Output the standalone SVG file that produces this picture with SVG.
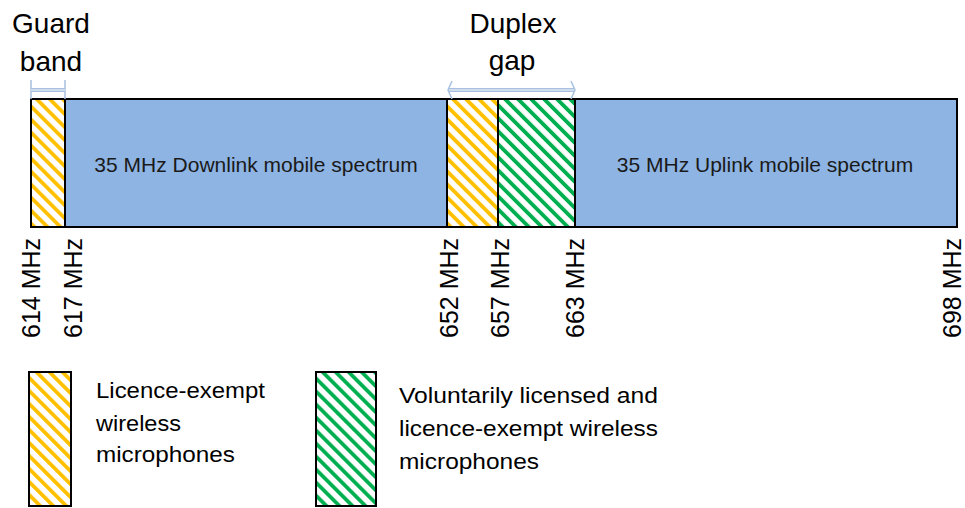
<svg xmlns="http://www.w3.org/2000/svg" width="965" height="508" viewBox="0 0 965 508">
<style>
  text { font-family: "Liberation Sans", Arial, sans-serif; fill: #000; }
  .band { stroke: #000; stroke-width: 2; }
  .blue { fill: #8EB4E3; }
  .lbl { font-size: 21px; fill: #1a1a1a; text-anchor: middle; }
  .head { font-size: 28px; text-anchor: middle; }
  .freq { font-size: 25px; }
  .leg { font-size: 22px; }
  .brk { stroke: #A9C1E0; fill: none; stroke-width: 1.5; }
</style>
<defs>
  <pattern id="hatchY" width="9.2" height="9.2" patternUnits="userSpaceOnUse" patternTransform="rotate(-45)">
    <rect width="9.2" height="9.2" fill="#fff"/>
    <rect width="3.8" height="9.2" fill="#FFC000"/>
  </pattern>
  <pattern id="hatchG" width="9.2" height="9.2" patternUnits="userSpaceOnUse" patternTransform="rotate(-45)">
    <rect width="9.2" height="9.2" fill="#fff"/>
    <rect width="3.8" height="9.2" fill="#00B050"/>
  </pattern>
</defs>
<rect width="965" height="508" fill="#fff"/>

<g id="guard-band">
  <rect class="band" x="31" y="99" width="34" height="128" fill="url(#hatchY)"/>
</g>
<g id="downlink">
  <rect class="band blue" x="65" y="99" width="382" height="128"/>
  <text class="lbl" x="256" y="172">35 MHz Downlink mobile spectrum</text>
</g>
<g id="duplex-yellow">
  <rect class="band" x="447" y="99" width="51" height="128" fill="url(#hatchY)"/>
</g>
<g id="duplex-green">
  <rect class="band" x="498" y="99" width="77" height="128" fill="url(#hatchG)"/>
</g>
<g id="uplink">
  <rect class="band blue" x="575" y="99" width="382" height="128"/>
  <text class="lbl" x="765" y="172">35 MHz Uplink mobile spectrum</text>
</g>

<g id="connectors">
  <g id="guard-bracket">
    <line class="brk" x1="31" y1="80" x2="31" y2="99"/>
    <line class="brk" x1="65" y1="80" x2="65" y2="99"/>
    <line x1="31" y1="90" x2="65" y2="90" stroke="#A9C1E0" stroke-width="4"/>
    <line x1="31" y1="90" x2="65" y2="90" stroke="#DCE6F2" stroke-width="1.5"/>
  </g>
  <g id="duplex-arrow">
    <line x1="449" y1="90" x2="574" y2="90" stroke="#A9C1E0" stroke-width="4"/>
    <line x1="449" y1="90" x2="574" y2="90" stroke="#DCE6F2" stroke-width="1.5"/>
    <polyline class="brk" points="452,81 448,90 452,99"/>
    <polyline class="brk" points="571,81 575,90 571,99"/>
  </g>
</g>

<g id="headings">
  <text class="head" x="51" y="33">Guard</text>
  <text class="head" x="51" y="71">band</text>
  <text class="head" x="513" y="33">Duplex</text>
  <text class="head" x="512" y="70">gap</text>
</g>

<g id="frequencies">
  <text class="freq" transform="translate(40,338) rotate(-90)">614 MHz</text>
  <text class="freq" transform="translate(82,338) rotate(-90)">617 MHz</text>
  <text class="freq" transform="translate(458,338) rotate(-90)">652 MHz</text>
  <text class="freq" transform="translate(509,338) rotate(-90)">657 MHz</text>
  <text class="freq" transform="translate(584,338) rotate(-90)">663 MHz</text>
  <text class="freq" transform="translate(961,338) rotate(-90)">698 MHz</text>
</g>

<g id="legend-yellow">
  <rect class="band" x="29" y="372" width="42" height="134" fill="url(#hatchY)"/>
  <text class="leg" x="96" y="398" textLength="169" lengthAdjust="spacingAndGlyphs">Licence-exempt</text>
  <text class="leg" x="96" y="431" textLength="85" lengthAdjust="spacingAndGlyphs">wireless</text>
  <text class="leg" x="96" y="462" textLength="139" lengthAdjust="spacingAndGlyphs">microphones</text>
</g>
<g id="legend-green">
  <rect class="band" x="316" y="372" width="60" height="134" fill="url(#hatchG)"/>
  <text class="leg" x="399" y="403" textLength="259" lengthAdjust="spacingAndGlyphs">Voluntarily licensed and</text>
  <text class="leg" x="399" y="436" textLength="259" lengthAdjust="spacingAndGlyphs">licence-exempt wireless</text>
  <text class="leg" x="399" y="469" textLength="140" lengthAdjust="spacingAndGlyphs">microphones</text>
</g>
</svg>
